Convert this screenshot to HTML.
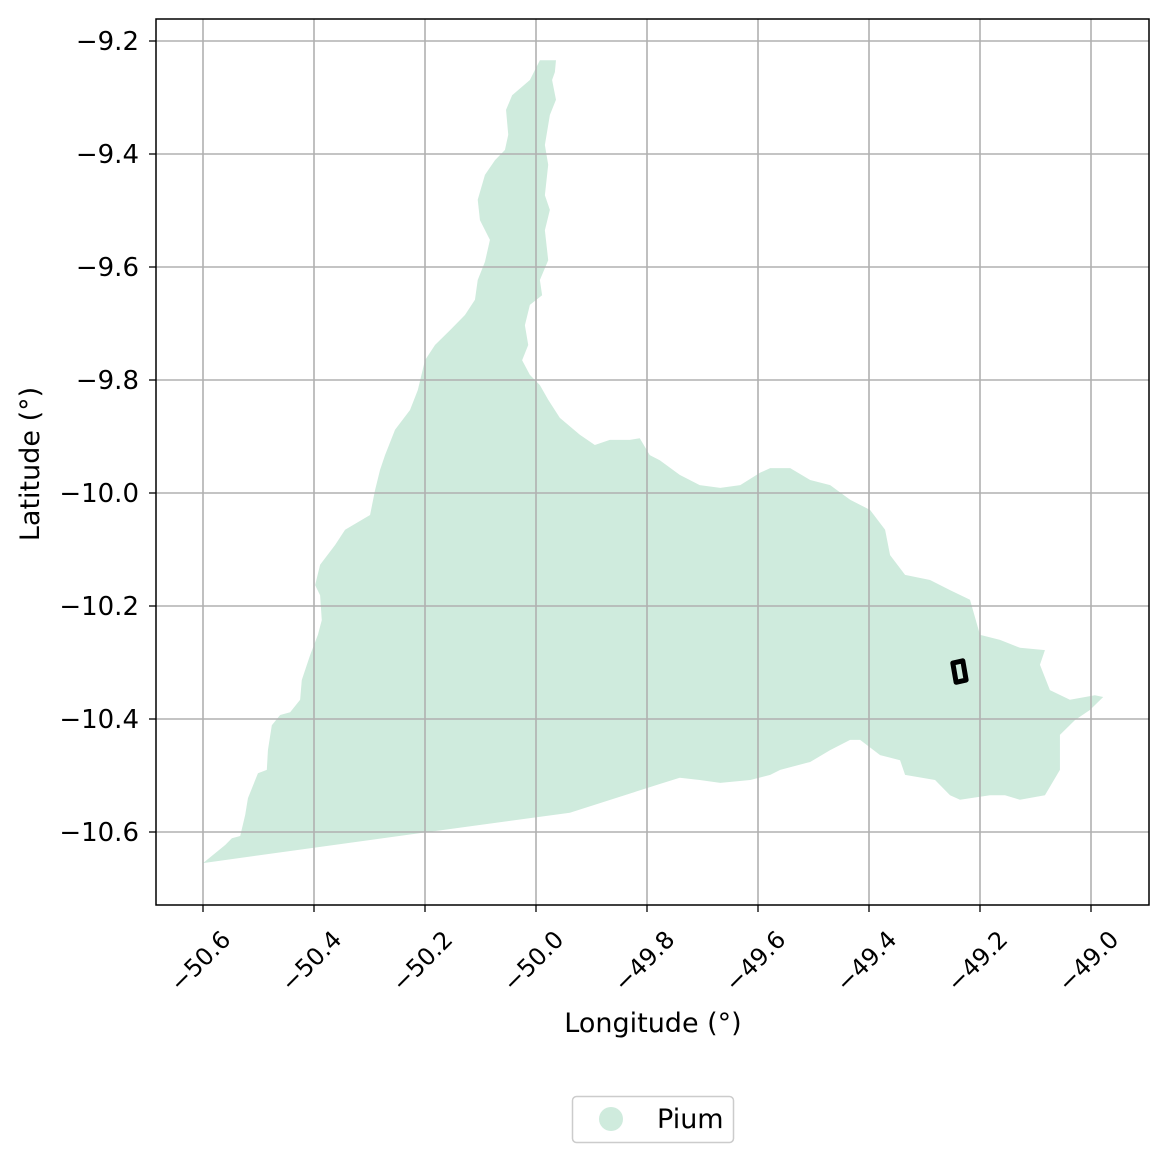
<!DOCTYPE html>
<html><head><meta charset="utf-8"><style>
body{margin:0;background:#fff;}
svg text{font-family:"DejaVu Sans","Liberation Sans",sans-serif;fill:#000;}
</style></head><body>
<svg id="chart" width="1169" height="1163" xmlns="http://www.w3.org/2000/svg"></svg>
<script>
const xTicks=[-50.6,-50.4,-50.2,-50.0,-49.8,-49.6,-49.4,-49.2,-49.0];
const xTickLabels=["−50.6","−50.4","−50.2","−50.0","−49.8","−49.6","−49.4","−49.2","−49.0"];
const yTicks=[-9.2,-9.4,-9.6,-9.8,-10.0,-10.2,-10.4,-10.6];
const yTickLabels=["−9.2","−9.4","−9.6","−9.8","−10.0","−10.2","−10.4","−10.6"];
const regionLon=[-50.600,-50.560,-50.548,-50.533,-50.524,-50.519,-50.501,-50.485,-50.483,-50.476,-50.461,-50.443,-50.425,-50.422,-50.407,-50.393,-50.386,-50.389,-50.398,-50.389,-50.362,-50.344,-50.299,-50.290,-50.281,-50.272,-50.254,-50.227,-50.213,-50.200,-50.182,-50.155,-50.128,-50.110,-50.105,-50.092,-50.083,-50.101,-50.105,-50.092,-50.074,-50.056,-50.050,-50.054,-50.043,-50.011,-49.993,-49.987,-49.964,-49.966,-49.971,-49.964,-49.975,-49.984,-49.978,-49.984,-49.975,-49.984,-49.978,-49.993,-49.989,-50.011,-50.020,-50.014,-50.025,-50.011,-49.993,-49.978,-49.957,-49.921,-49.894,-49.867,-49.831,-49.813,-49.795,-49.777,-49.741,-49.705,-49.668,-49.632,-49.596,-49.578,-49.542,-49.506,-49.470,-49.434,-49.398,-49.371,-49.362,-49.335,-49.290,-49.254,-49.218,-49.200,-49.164,-49.128,-49.083,-49.092,-49.074,-49.038,-48.993,-48.978,-49.002,-49.029,-49.056,-49.056,-49.083,-49.128,-49.155,-49.182,-49.236,-49.254,-49.281,-49.335,-49.344,-49.380,-49.416,-49.434,-49.470,-49.506,-49.560,-49.578,-49.614,-49.668,-49.705,-49.741,-49.777,-49.939,-50.209];
const regionLat=[-10.655,-10.623,-10.611,-10.607,-10.570,-10.540,-10.496,-10.490,-10.455,-10.411,-10.393,-10.388,-10.366,-10.331,-10.287,-10.251,-10.225,-10.181,-10.163,-10.127,-10.092,-10.065,-10.039,-9.995,-9.959,-9.933,-9.888,-9.853,-9.818,-9.765,-9.738,-9.712,-9.685,-9.658,-9.623,-9.591,-9.552,-9.517,-9.481,-9.437,-9.411,-9.393,-9.366,-9.322,-9.296,-9.269,-9.234,-9.234,-9.234,-9.255,-9.269,-9.304,-9.331,-9.384,-9.419,-9.473,-9.499,-9.535,-9.588,-9.623,-9.650,-9.667,-9.703,-9.738,-9.765,-9.791,-9.809,-9.835,-9.867,-9.897,-9.915,-9.906,-9.906,-9.903,-9.933,-9.942,-9.968,-9.986,-9.991,-9.986,-9.964,-9.956,-9.956,-9.977,-9.986,-10.012,-10.030,-10.065,-10.110,-10.145,-10.154,-10.172,-10.189,-10.251,-10.260,-10.274,-10.278,-10.304,-10.349,-10.366,-10.358,-10.361,-10.384,-10.402,-10.428,-10.490,-10.535,-10.543,-10.535,-10.535,-10.543,-10.535,-10.508,-10.499,-10.473,-10.464,-10.437,-10.437,-10.455,-10.476,-10.490,-10.499,-10.508,-10.513,-10.508,-10.504,-10.515,-10.566,-10.602];
const markerLon=[-49.249,-49.231,-49.225,-49.243];
const markerLat=[-10.301,-10.297,-10.331,-10.335];

const L=156,R=1149,T=19,B=905;
const xs=v=>203+(v+50.6)/0.2*111;
const ys=v=>41+(-9.2-v)/0.2*113;
const svg=document.getElementById('chart');
const NS='http://www.w3.org/2000/svg';
function mk(tag,attrs,parent){const e=document.createElementNS(NS,tag);for(const k in attrs)e.setAttribute(k,attrs[k]);(parent||svg).appendChild(e);return e;}

const poly=mk('polygon',{points:regionLon.map((v,i)=>xs(v)+','+ys(regionLat[i])).join(' '),fill:'#cfebdd'});



xTicks.forEach((v,i)=>{
  const g=mk('line',{x1:xs(v),x2:xs(v),y1:T,y2:B,stroke:'#b0b0b0','stroke-width':1.6});
  
  
  mk('line',{x1:xs(v),x2:xs(v),y1:B,y2:B+7,stroke:'#000','stroke-width':1.3});
  const ax=xs(v)+29, ay=B+36;
  const t=mk('text',{x:ax,y:ay,'font-size':24,'text-anchor':'end',transform:`rotate(-45 ${ax} ${ay})`});
  t.textContent=xTickLabels[i];
  
  
});
yTicks.forEach((v,i)=>{
  const g=mk('line',{x1:L,x2:R,y1:ys(v),y2:ys(v),stroke:'#b0b0b0','stroke-width':1.6});
  
  
  mk('line',{x1:L-7,x2:L,y1:ys(v),y2:ys(v),stroke:'#000','stroke-width':1.3});
  const t=mk('text',{x:L-17,y:ys(v)+9,'font-size':26,'text-anchor':'end'});
  t.textContent=yTickLabels[i];
  
  
});

const mp=mk('polygon',{points:markerLon.map((v,i)=>xs(v)+','+ys(markerLat[i])).join(' '),fill:'none',stroke:'#000','stroke-width':5,'stroke-linejoin':'round'});



const frame=mk('rect',{x:L,y:T,width:R-L,height:B-T,fill:'none',stroke:'#000','stroke-width':1.5});



const xt=mk('text',{x:653,y:1032,'font-size':27,'text-anchor':'middle'});
xt.textContent='Longitude (°)';


const yt=mk('text',{x:39,y:(T+B)/2+2,'font-size':27,'text-anchor':'middle',transform:`rotate(-90 39 ${(T+B)/2+2})`});
yt.textContent='Latitude (°)';



const lg=mk('rect',{x:572.5,y:1096.5,width:161,height:46,rx:4,fill:'#fff',stroke:'#ccc','stroke-width':1.5});


const lc=mk('circle',{cx:611,cy:1119,r:12,fill:'#cfebdd'});


const lt=mk('text',{x:657,y:1128,'font-size':27});
lt.textContent='Pium';


</script>
</body></html>
